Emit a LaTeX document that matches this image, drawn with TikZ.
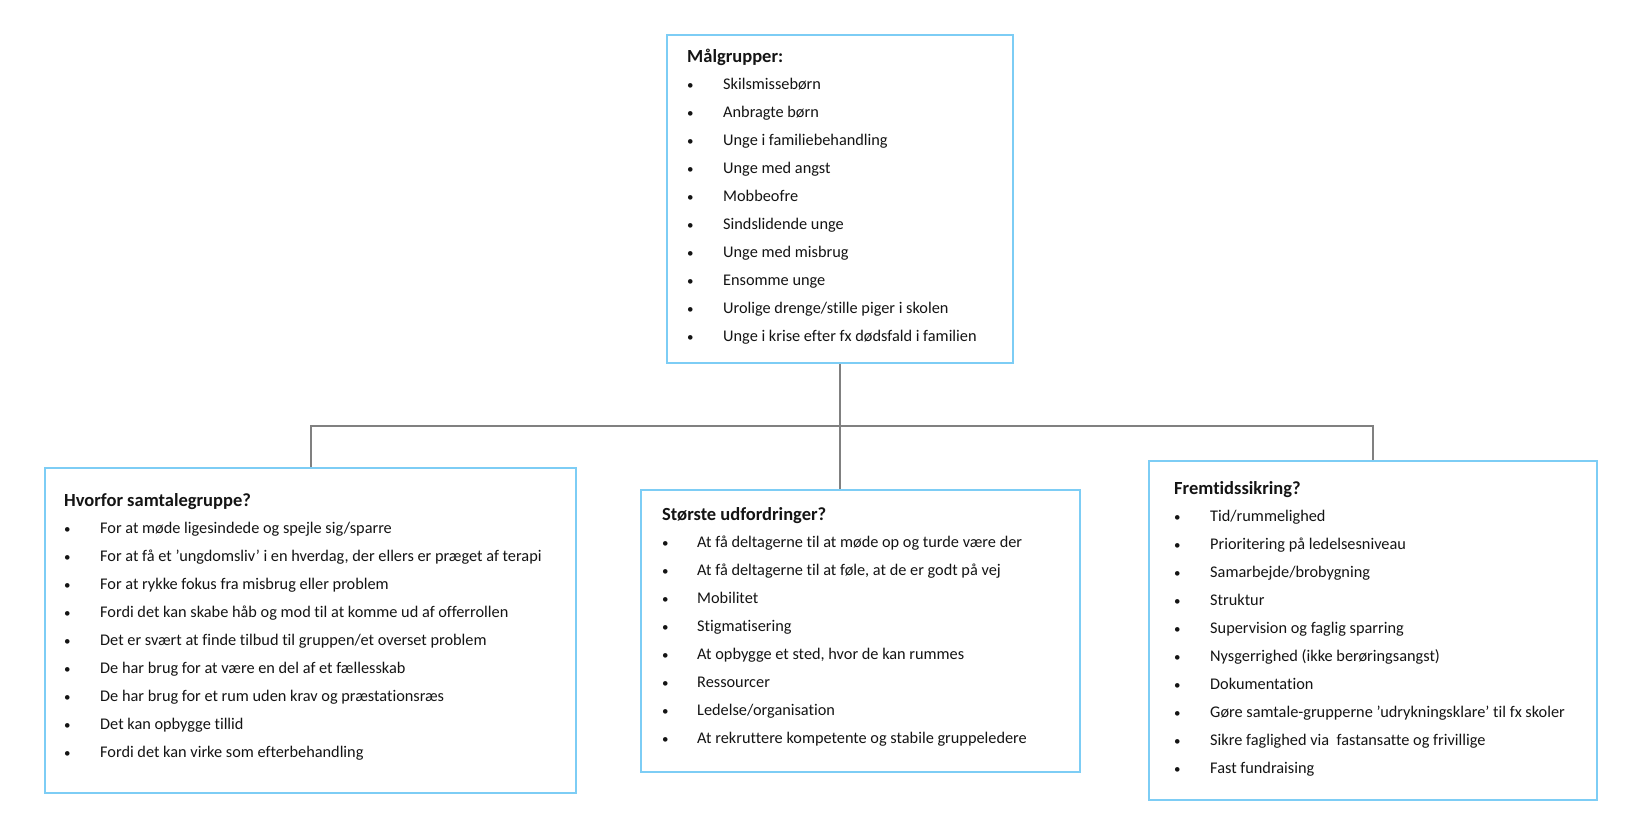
\documentclass[tikz,border=0pt]{standalone}
\usepackage{fontspec}
\setmainfont[Ligatures={NoCommon}]{Carlito}
\definecolor{boxblue}{RGB}{125,205,245}
\definecolor{linegray}{RGB}{128,128,128}
\definecolor{txt}{RGB}{20,20,20}
\tikzset{
  panel/.style={draw=boxblue,line width=2pt,fill=white,anchor=north west,inner sep=0pt},
  conn/.style={draw=linegray,line width=2pt},
  ttl/.style={anchor=base west,inner sep=0pt,font=\fontsize{18.5}{20}\selectfont\bfseries,text=txt},
  itm/.style={anchor=base west,inner sep=0pt,font=\fontsize{16.3}{18}\selectfont,text=txt},
  bul/.style={anchor=base west,inner sep=0pt,font=\fontsize{13}{14}\selectfont,text=txt},
}
\begin{document}
\begin{tikzpicture}[x=1pt,y=-1pt]
\useasboundingbox (0,0) rectangle (1645,835);
% panels
\node[panel,minimum width=346pt,minimum height=328pt] (top) at (666,34) {};
\node[panel,minimum width=531pt,minimum height=325pt] (left) at (44,467) {};
\node[panel,minimum width=439pt,minimum height=282pt] (mid) at (640,489) {};
\node[panel,minimum width=448pt,minimum height=339pt] (right) at (1148,460) {};
% connectors
\coordinate (j) at (top.south |- 0,426);
\draw[conn] (top.south) -- (j);
\draw[conn] (left.north) |- (j);
\draw[conn] (right.north) |- (j);
\draw[conn] (j) -- (j |- mid.north);
% top panel
\node[ttl] (ta) at (687,62) {Målgrupper:};
\foreach \t [count=\i from 0] in {Skilsmissebørn,Anbragte børn,Unge i familiebehandling,Unge med angst,Mobbeofre,Sindslidende unge,Unge med misbrug,Ensomme unge,Urolige drenge/stille piger i skolen,Unge i krise efter fx dødsfald i familien}{
  \node[bul] (ab\i) at (687,89+28*\i) {•};
  \node[itm] (ai\i) at (723,89+28*\i) {\t};
}
% left panel
\node[ttl] (tl) at (64,506) {Hvorfor samtalegruppe?};
\foreach \t [count=\i from 0] in {For at møde ligesindede og spejle sig/sparre,{For at få et ’ungdomsliv’ i en hverdag, der ellers er præget af terapi},For at rykke fokus fra misbrug eller problem,Fordi det kan skabe håb og mod til at komme ud af offerrollen,Det er svært at finde tilbud til gruppen/et overset problem,De har brug for at være en del af et fællesskab,De har brug for et rum uden krav og præstationsræs,Det kan opbygge tillid,Fordi det kan virke som efterbehandling}{
  \node[bul] (bb\i) at (64,533+28*\i) {•};
  \node[itm] (bi\i) at (100,533+28*\i) {\t};
}
% middle panel
\node[ttl] (tm) at (662,520) {Største udfordringer?};
\foreach \t [count=\i from 0] in {At få deltagerne til at møde op og turde være der,{At få deltagerne til at føle, at de er godt på vej},Mobilitet,Stigmatisering,{At opbygge et sted, hvor de kan rummes},Ressourcer,Ledelse/organisation,At rekruttere kompetente og stabile gruppeledere}{
  \node[bul] (cb\i) at (662,547+28*\i) {•};
  \node[itm] (ci\i) at (697,547+28*\i) {\t};
}
% right panel
\node[ttl] (tr) at (1174,494) {Fremtidssikring?};
\foreach \t [count=\i from 0] in {Tid/rummelighed,Prioritering på ledelsesniveau,Samarbejde/brobygning,Struktur,Supervision og faglig sparring,Nysgerrighed (ikke berøringsangst),Dokumentation,Gøre samtale-grupperne ’udrykningsklare’ til fx skoler,Sikre faglighed via\ \ fastansatte og frivillige,Fast fundraising}{
  \node[bul] (db\i) at (1174,521+28*\i) {•};
  \node[itm] (di\i) at (1210,521+28*\i) {\t};
}
\end{tikzpicture}
\end{document}
